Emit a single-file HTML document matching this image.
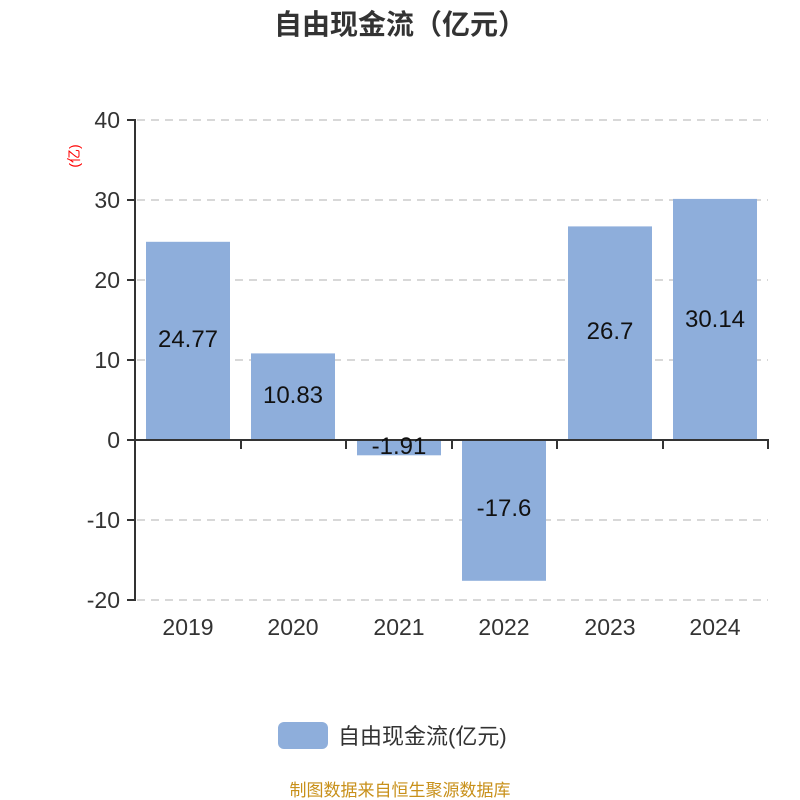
<!DOCTYPE html>
<html><head><meta charset="utf-8"><style>body{margin:0;background:#fff}svg{display:block}</style></head><body>
<svg width="800" height="800" xmlns="http://www.w3.org/2000/svg" font-family="'Liberation Sans','Noto Sans CJK SC',sans-serif">
<rect width="800" height="800" fill="#fff"/>
<text x="400" y="34" text-anchor="middle" font-size="28" font-weight="bold" fill="#333">自由现金流（亿元）</text>
<g stroke="#ccc" stroke-width="1.5" stroke-dasharray="8,6">
<line x1="137" y1="120" x2="768" y2="120"/><line x1="137" y1="200" x2="768" y2="200"/><line x1="137" y1="280" x2="768" y2="280"/><line x1="137" y1="360" x2="768" y2="360"/><line x1="137" y1="520" x2="768" y2="520"/><line x1="137" y1="600" x2="768" y2="600"/>
</g>
<g fill="#8eaedb">
<rect x="146" y="241.8" width="84" height="198.2"/>
<rect x="251" y="353.4" width="84" height="86.6"/>
<rect x="357" y="440" width="84" height="15.3"/>
<rect x="462" y="440" width="84" height="140.8"/>
<rect x="568" y="226.4" width="84" height="213.6"/>
<rect x="673" y="198.9" width="84" height="241.1"/>
</g>
<g stroke="#333" stroke-width="2">
<line x1="135" y1="119" x2="135" y2="601"/>
<line x1="127" y1="120" x2="135" y2="120"/><line x1="127" y1="200" x2="135" y2="200"/><line x1="127" y1="280" x2="135" y2="280"/><line x1="127" y1="360" x2="135" y2="360"/><line x1="127" y1="440" x2="135" y2="440"/><line x1="127" y1="520" x2="135" y2="520"/><line x1="127" y1="600" x2="135" y2="600"/>
<line x1="135" y1="440" x2="769" y2="440"/>
<line x1="241" y1="440" x2="241" y2="449"/><line x1="346" y1="440" x2="346" y2="449"/><line x1="452" y1="440" x2="452" y2="449"/><line x1="557" y1="440" x2="557" y2="449"/><line x1="663" y1="440" x2="663" y2="449"/><line x1="768" y1="440" x2="768" y2="449"/>
</g>
<g font-size="23" fill="#333" text-anchor="end">
<text x="120" y="128">40</text><text x="120" y="208">30</text><text x="120" y="288">20</text><text x="120" y="368">10</text><text x="120" y="448">0</text><text x="120" y="528">-10</text><text x="120" y="608">-20</text>
</g>
<text transform="translate(79,156) rotate(-90)" text-anchor="middle" font-size="14" fill="#f00">(亿)</text>
<g font-size="23" fill="#333" text-anchor="middle">
<text x="188" y="635">2019</text><text x="293" y="635">2020</text><text x="399" y="635">2021</text><text x="504" y="635">2022</text><text x="610" y="635">2023</text><text x="715" y="635">2024</text>
</g>
<g font-size="24" fill="#111" text-anchor="middle">
<text x="188" y="347">24.77</text><text x="293" y="403">10.83</text><text x="399" y="454">-1.91</text><text x="504" y="516">-17.6</text><text x="610" y="339">26.7</text><text x="715" y="327">30.14</text>
</g>
<rect x="278" y="722" width="50" height="27" rx="6" fill="#8eaedb"/>
<text x="338" y="744" font-size="22" fill="#333">自由现金流(亿元)</text>
<text x="400" y="796" text-anchor="middle" font-size="17" fill="#c8901a">制图数据来自恒生聚源数据库</text>
</svg>
</body></html>
